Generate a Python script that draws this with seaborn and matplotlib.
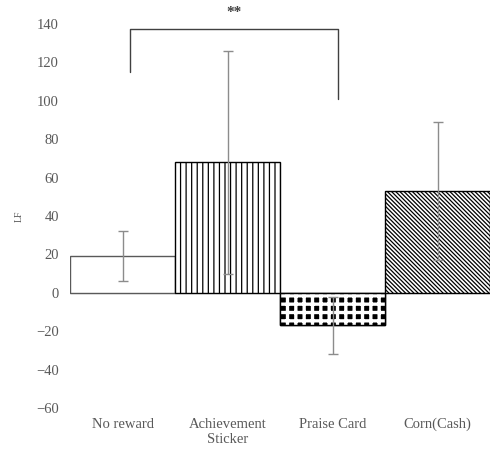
import numpy as np
import pandas as pd
import seaborn as sns
import matplotlib
matplotlib.use('Agg')
import matplotlib.pyplot as plt
from matplotlib.patches import Rectangle

# values
groups = ['No reward', 'Achievement\nSticker', 'Praise Card', 'Corn(Cash)']
lf_mean = [19, 68, -17, 53]
lf_sd = [13, 58, 15, 36]
hatches = ['', '|||', '', '\\' * 8]
yticks = [-60, -40, -20, 0, 20, 40, 60, 80, 100, 120, 140]

sns.set_style('white')
plt.rcParams['font.family'] = ['Liberation Serif', 'DejaVu Serif']
plt.rcParams['hatch.linewidth'] = 0.9
plt.rcParams['hatch.color'] = 'black'

df = pd.DataFrame({'group': groups, 'LF': lf_mean})

fig = plt.figure(figsize=(4.9, 4.5), dpi=100)
ax = fig.add_axes([70 / 490, 1 - 408 / 450, 1 - 70 / 490, 384 / 450])

sns.barplot(data=df, x='group', y='LF', color='white', width=1.0,
            edgecolor='black', linewidth=1.0, errorbar=None, ax=ax)
for bar, h in zip(ax.patches, hatches):
    bar.set_hatch(h)
ax.patches[0].set_edgecolor('#595959')

# praise card: black blobs -> black fill with a white grid hatch on top
pc = ax.patches[2]
pc.set_facecolor('black')
grid = Rectangle(pc.get_xy(), pc.get_width(), pc.get_height(), facecolor='none',
                 edgecolor='white', linewidth=0, hatch='++', zorder=pc.get_zorder() + 0.1)
if hasattr(grid, 'set_hatch_linewidth'):
    grid.set_hatch_linewidth(2.4)
ax.add_patch(grid)
ax.add_patch(Rectangle(pc.get_xy(), pc.get_width(), pc.get_height(), facecolor='none',
                       edgecolor='black', linewidth=1.0, zorder=pc.get_zorder() + 0.2))

# error bars (mean +/- SD)
ax.errorbar(range(len(groups)), lf_mean, yerr=lf_sd, fmt='none',
            ecolor='#8c8c8c', elinewidth=1.0, capsize=3.5, capthick=1.0, zorder=5)

ax.axhline(0, color='#d9d9d9', lw=1, zorder=0)
ax.set_ylim(-60, 140)
ax.set_xlim(-0.5, 3.5)
ax.set_yticks(yticks)
ax.set_yticklabels([str(t).replace('-', '\u2212') for t in yticks])
sns.despine(ax=ax, left=True, bottom=True, top=True, right=True)
ax.tick_params(axis='both', length=0, labelsize=10.5, colors='#595959', pad=8)
ax.tick_params(axis='x', pad=7)
ax.set_xlabel('')
ax.set_ylabel('LF', fontsize=7, color='#595959', labelpad=9)

# significance bracket
bx = [0.07, 0.07, 2.05, 2.05]
by = [115, 137.5, 137.5, 101]
ax.plot(bx, by, color='#404040', lw=1.0, clip_on=False)
ax.text(1.06, 146, '**', ha='center', va='center', fontsize=11,
        fontweight='bold', color='#404040')

fig.savefig('out.png', dpi=100)
